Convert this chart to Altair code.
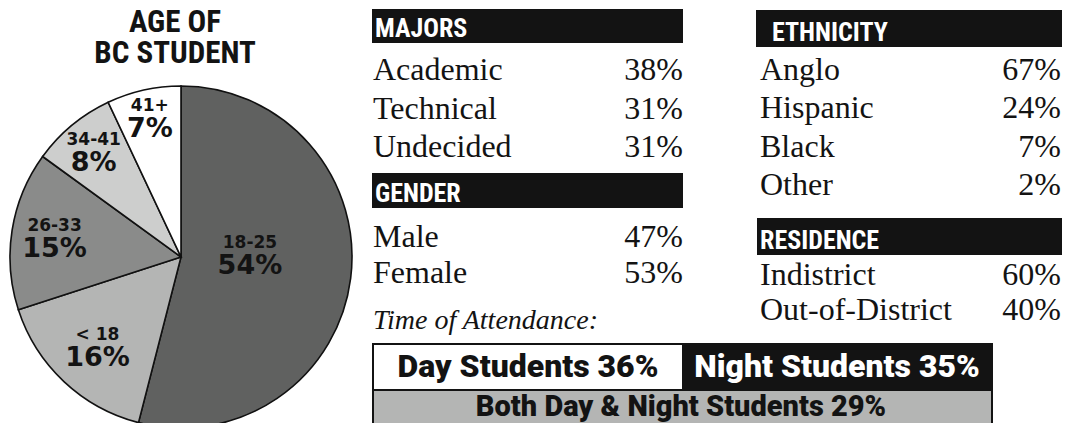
import altair as alt
import pandas as pd

# ---------------- data ----------------
title_lines = ["AGE OF", "BC STUDENT"]

age_groups = ["18-25", "< 18", "26-33", "34-41", "41+"]
age_share = [54, 16, 15, 8, 7]

sections = ["MAJORS", "GENDER", "ETHNICITY", "RESIDENCE"]

majors = ["Academic", "Technical", "Undecided"]
majors_pct = [38, 31, 31]

gender = ["Male", "Female"]
gender_pct = [47, 53]

ethnicity = ["Anglo", "Hispanic", "Black", "Other"]
ethnicity_pct = [67, 24, 7, 2]

residence = ["Indistrict", "Out-of-District"]
residence_pct = [60, 40]

attendance_caption = "Time of Attendance:"
attendance = ["Day Students", "Night Students", "Both Day & Night Students"]
attendance_pct = [36, 35, 29]

# ---------------- styles / layout ----------------
W, H = 1054, 415
COND = "'Roboto Condensed', 'DejaVu Sans Condensed', sans-serif"
HEAVY = "Roboto, 'DejaVu Sans', sans-serif"
SERIF = "'Liberation Serif', 'DejaVu Serif', serif"
WIDE = "'DejaVu Sans', Verdana, sans-serif"
INK = "#131313"
age_colors = ["#606160", "#b4b5b4", "#8a8b8a", "#cdcecd", "#ffffff"]
label_radius = [69, 122, 128, 137, 143]   # layout: distance of each slice label from centre
label_turn = [-2.8, 0, 0, 0, 0]           # layout: angular nudge of each label (share units)
PIE_CX, PIE_CY, PIE_R = 173, 249, 171
TAU = 6.283185307179586

layers = []

# ---------------- title ----------------
title_df = pd.DataFrame({"line": title_lines, "i": range(len(title_lines))})
layers.append(
    alt.Chart(title_df).mark_text(font=COND, fontWeight="bold", fontSize=31,
                                  align="center", baseline="alphabetic", color=INK)
    .encode(x=alt.value(167),
            y=alt.Y("i:Q", scale=alt.Scale(domain=[0, 1], range=[24, 55], nice=False, zero=False), axis=None),
            text="line:N")
)

# ---------------- pie ----------------
pie_df = pd.DataFrame({
    "group": age_groups,
    "share": age_share,
    "pct": [f"{v}%" for v in age_share],
    "k": range(len(age_groups)),
    "lr": label_radius,
    "turn": label_turn,
})
total = sum(age_share)
pie_base = (
    alt.Chart(pie_df)
    .transform_window(cum="sum(share)", sort=[alt.SortField("k", order="ascending")])
    .transform_calculate(start="datum.cum - datum.share",
                         mid="datum.cum - datum.share / 2 + datum.turn")
)
tscale = alt.Scale(domain=[0, total], range=[0, TAU])
layers.append(
    pie_base.mark_arc(outerRadius=PIE_R, stroke="#111", strokeWidth=1.6)
    .encode(theta=alt.Theta("start:Q", scale=tscale), theta2=alt.Theta2("cum:Q"),
            color=alt.Color("group:N", scale=alt.Scale(domain=age_groups, range=age_colors), legend=None),
            x=alt.value(PIE_CX), y=alt.value(PIE_CY))
)
layers.append(
    pie_base.mark_text(font=WIDE, fontWeight="bold", fontSize=17, color=INK, dy=-11)
    .encode(theta=alt.Theta("mid:Q", scale=tscale), radius=alt.Radius("lr:Q", scale=None),
            text="group:N", x=alt.value(PIE_CX), y=alt.value(PIE_CY))
)
layers.append(
    pie_base.mark_text(font=WIDE, fontWeight="bold", fontSize=27, color=INK, dy=12)
    .encode(theta=alt.Theta("mid:Q", scale=tscale), radius=alt.Radius("lr:Q", scale=None),
            text="pct:N", x=alt.value(PIE_CX), y=alt.value(PIE_CY))
)


# ---------------- tables ----------------
def header(name, x0, x1, y0, y1, tx):
    df = pd.DataFrame({"name": [name]})
    rect = alt.Chart(df).mark_rect(color=INK).encode(
        x=alt.value(x0), x2=alt.value(x1), y=alt.value(y0), y2=alt.value(y1))
    txt = alt.Chart(df).mark_text(font=COND, fontWeight="bold", fontSize=26, color="white",
                                  align="left", baseline="alphabetic").encode(
        x=alt.value(tx), y=alt.value(y1 - 6), text="name:N")
    return [rect, txt]


def table(labels, values, x_left, x_right, y_first, step):
    df = pd.DataFrame({"label": labels, "pct": [f"{v}%" for v in values], "i": range(len(labels))})
    yenc = alt.Y("i:Q", scale=alt.Scale(domain=[0, 1], range=[y_first, y_first + step],
                                        nice=False, zero=False), axis=None)
    left = alt.Chart(df).mark_text(font=SERIF, fontSize=32, color=INK, align="left",
                                   baseline="alphabetic").encode(x=alt.value(x_left), y=yenc, text="label:N")
    right = alt.Chart(df).mark_text(font=SERIF, fontSize=32, color=INK, align="right",
                                    baseline="alphabetic").encode(x=alt.value(x_right), y=yenc, text="pct:N")
    return [left, right]


layers += header(sections[0], 364, 675, 1, 35, 367)
layers += table(majors, majors_pct, 365, 675, 72, 38.5)
layers += header(sections[1], 364, 675, 165, 200, 367)
layers += table(gender, gender_pct, 365, 675, 239, 36)
layers += header(sections[2], 748, 1054, 2, 39, 764)
layers += table(ethnicity, ethnicity_pct, 752, 1053, 72, 38.4)
layers += header(sections[3], 749, 1054, 210, 247, 752)
layers += table(residence, residence_pct, 752, 1053, 277, 35)

# ---------------- time of attendance ----------------
cap_df = pd.DataFrame({"t": [attendance_caption]})
layers.append(
    alt.Chart(cap_df).mark_text(font=SERIF, fontStyle="italic", fontSize=28, color=INK,
                                align="left", baseline="alphabetic")
    .encode(x=alt.value(365), y=alt.value(321), text="t:N")
)


def box(x0, x1, y0, y1, fill):
    return alt.Chart(cap_df).mark_rect(fill=fill, stroke=INK, strokeWidth=2).encode(
        x=alt.value(x0), x2=alt.value(x1), y=alt.value(y0), y2=alt.value(y1))


layers.append(box(365, 675, 336, 382, "#ffffff"))
layers.append(box(675, 984, 336, 382, INK))
layers.append(box(365, 984, 382, 450, "#b4b5b4"))

box_ink = [INK, "#ffffff", INK]
att_df = pd.DataFrame({
    "txt": [f"{n} {v}%" for n, v in zip(attendance, attendance_pct)],
    "k": range(len(attendance)),
})
layers.append(
    alt.Chart(att_df).mark_text(font=HEAVY, fontWeight=900, align="center", baseline="alphabetic")
    .encode(x=alt.X("k:Q", scale=alt.Scale(domain=[0, 1, 2], range=[520, 829, 673]), axis=None),
            y=alt.Y("k:Q", scale=alt.Scale(domain=[0, 1, 2], range=[369, 369, 408]), axis=None),
            size=alt.Size("k:N", scale=alt.Scale(type="ordinal", domain=[0, 1, 2], range=[32, 32, 29]),
                          legend=None),
            text="txt:N",
            color=alt.Color("k:N", scale=alt.Scale(domain=[0, 1, 2], range=box_ink), legend=None))
)

chart = (
    alt.layer(*layers)
    .resolve_scale(x="independent", y="independent", color="independent", size="independent",
                   theta="independent", radius="independent")
    .properties(width=W, height=H, autosize=alt.AutoSizeParams(type="none"), padding=0,
                background="white")
    .configure_view(stroke=None)
)

chart.save("out.html", embed_options={"renderer": "svg", "actions": False})
